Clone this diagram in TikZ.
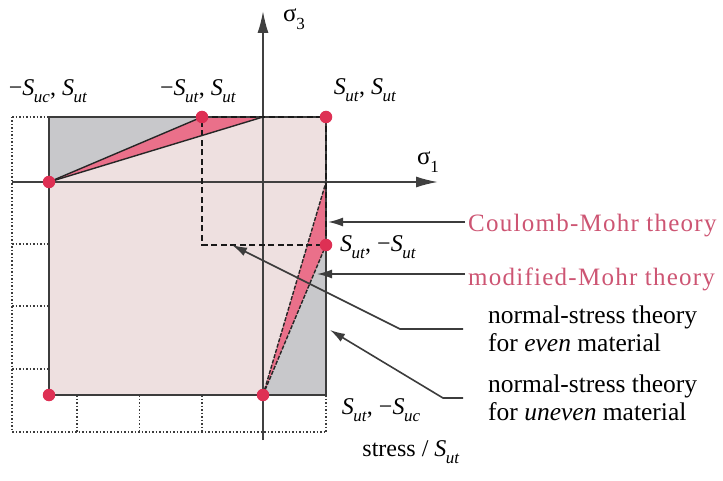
\documentclass[tikz,border=0pt]{standalone}
\usepackage{fontspec}
\setmainfont{Liberation Serif}
\newfontfamily\pinkfont[LetterSpace=5]{Liberation Serif}
\usetikzlibrary{arrows.meta}
\definecolor{graybg}{RGB}{200,200,203}
\definecolor{pinkbg}{RGB}{238,224,224}
\definecolor{pinktri}{RGB}{234,112,138}
\definecolor{dotred}{RGB}{222,48,84}
\definecolor{pinktext}{RGB}{205,85,115}
\definecolor{linegray}{RGB}{60,60,60}
\newcommand\Ssub[1]{\textit{S}\kern-0.5pt\raisebox{-0.3em}{\fontsize{17}{17}\selectfont\textit{#1}}}
\newcommand\sigsub[1]{σ\raisebox{-0.3em}{\fontsize{17}{17}\selectfont #1}}
\begin{document}
\begin{tikzpicture}[x=1pt,y=-1pt,
  lbl/.style={inner sep=0pt,font=\fontsize{24}{28}\selectfont},
  theory/.style={inner sep=0pt,align=left,anchor=west,font=\fontsize{25.5}{28}\selectfont},
  pinklbl/.style={inner sep=0pt,anchor=west,text=pinktext,font=\pinkfont\fontsize{25}{28}\selectfont},
  gridline/.style={linegray,line width=1.3pt,dash pattern=on 1.5pt off 2pt},
  edge/.style={linegray,line width=1.6pt},
  axis/.style={black!75,line width=1.6pt,-{Latex[length=22pt,width=11pt]}},
  sqline/.style={black!90,line width=2.8pt,dash pattern=on 6pt off 3.5pt},
  theoryline/.style={black!85,line width=1.4pt},
  leader/.style={linegray,line width=1.6pt,-{Latex[length=15pt,width=9pt]}},
  pt/.style={circle,fill=dotred,inner sep=0pt,minimum size=12.5pt}
]
\useasboundingbox (0,0) rectangle (723,481);

% key coordinates
\coordinate (O) at (263,182);
\coordinate (TL) at (49,117);
\coordinate (BR) at (326,395);
\coordinate (A) at (49,182);    % -Suc, 0
\coordinate (B) at (202,117);   % -Sut, Sut
\coordinate (C) at (263,117);   % 0, Sut
\coordinate (D) at (326,117);   % Sut, Sut
\coordinate (E) at (326,182);   % Sut, 0
\coordinate (F) at (326,245);   % Sut, -Sut
\coordinate (G) at (263,395);   % 0, -Suc
\coordinate (H) at (49,395);    % -Suc, -Suc
\coordinate (Q) at (202,245);   % -Sut, -Sut

% fills
\fill[graybg] (TL) rectangle (BR);
\fill[pinkbg] (A) -- (C) -- (D) -- (E) -- (G) -- (H) -- cycle;
\fill[pinktri] (A) -- (B) -- (C) -- cycle;
\fill[pinktri] (E) -- (F) -- (G) -- cycle;

% dotted grid
\draw[gridline] (12,117) -- (12,432) -- (326,432);
\foreach \yy in {117,244,306,369} \draw[gridline] (12,\yy) -- (49,\yy);
\foreach \xx in {77,139.5,202,326} \draw[gridline] (\xx,395) -- (\xx,432);

% outer rectangle
\draw[edge] (TL) rectangle (BR);

% axes
\draw[axis] (12,182) -- (438,182);
\draw[axis] (263,440) -- (263,11);

% dashed square (normal-stress, even material)
\draw[sqline] (B) -- (D) -- (F) -- (Q) -- cycle;

% theory lines
\draw[theoryline] (A) -- (B);
\draw[theoryline] (A) -- (C);
\draw[theoryline,dash pattern=on 4pt off 1.5pt] (G) -- (E);
\draw[theoryline,dash pattern=on 4pt off 1.5pt] (G) -- (F);

% points
\foreach \p in {A,B,D,F,G,H} \node[pt] at (\p) {};

% labels
\node[lbl] (lA) at (48,91) {−\Ssub{uc}, \Ssub{ut}};
\node[lbl] (lB) at (198,91) {−\Ssub{ut}, \Ssub{ut}};
\node[lbl] (lD) at (365,90) {\Ssub{ut}, \Ssub{ut}};
\node[lbl] (lF) at (378,247) {\Ssub{ut}, −\Ssub{ut}};
\node[lbl] (lG) at (381,410) {\Ssub{ut}, −\Ssub{uc}};
\node[lbl,font=\fontsize{25}{28}\selectfont] (s3) at (294,19) {\sigsub{3}};
\node[lbl,font=\fontsize{25}{28}\selectfont] (s1) at (428,162) {\sigsub{1}};
\node[lbl] (stress) at (411,452) {stress / \Ssub{ut}};

% theory labels
\node[pinklbl] (cm) at (468,226) {Coulomb-Mohr theory};
\node[pinklbl] (mm) at (468,279) {modified-Mohr theory};
\node[theory] (ev) at (488,329) {normal-stress theory\\for \textit{even} material};
\node[theory] (un) at (488,398) {normal-stress theory\\for \textit{uneven} material};

% leader lines
\coordinate (cmS) at (465,222);
\coordinate (cmT) at (328,222);
\coordinate (mmS) at (465,274);
\coordinate (mmT) at (317,274);
\coordinate (evS) at (463,329);
\coordinate (evK) at (400,329);
\coordinate (evT) at (232,245);
\coordinate (unS) at (463,398);
\coordinate (unK) at (443,398);
\coordinate (unT) at (330,330);
\draw[leader] (cmS) -- (cmT);
\draw[leader] (mmS) -- (mmT);
\draw[leader] (evS) -- (evK) -- (evT);
\draw[leader] (unS) -- (unK) -- (unT);
\end{tikzpicture}
\end{document}
